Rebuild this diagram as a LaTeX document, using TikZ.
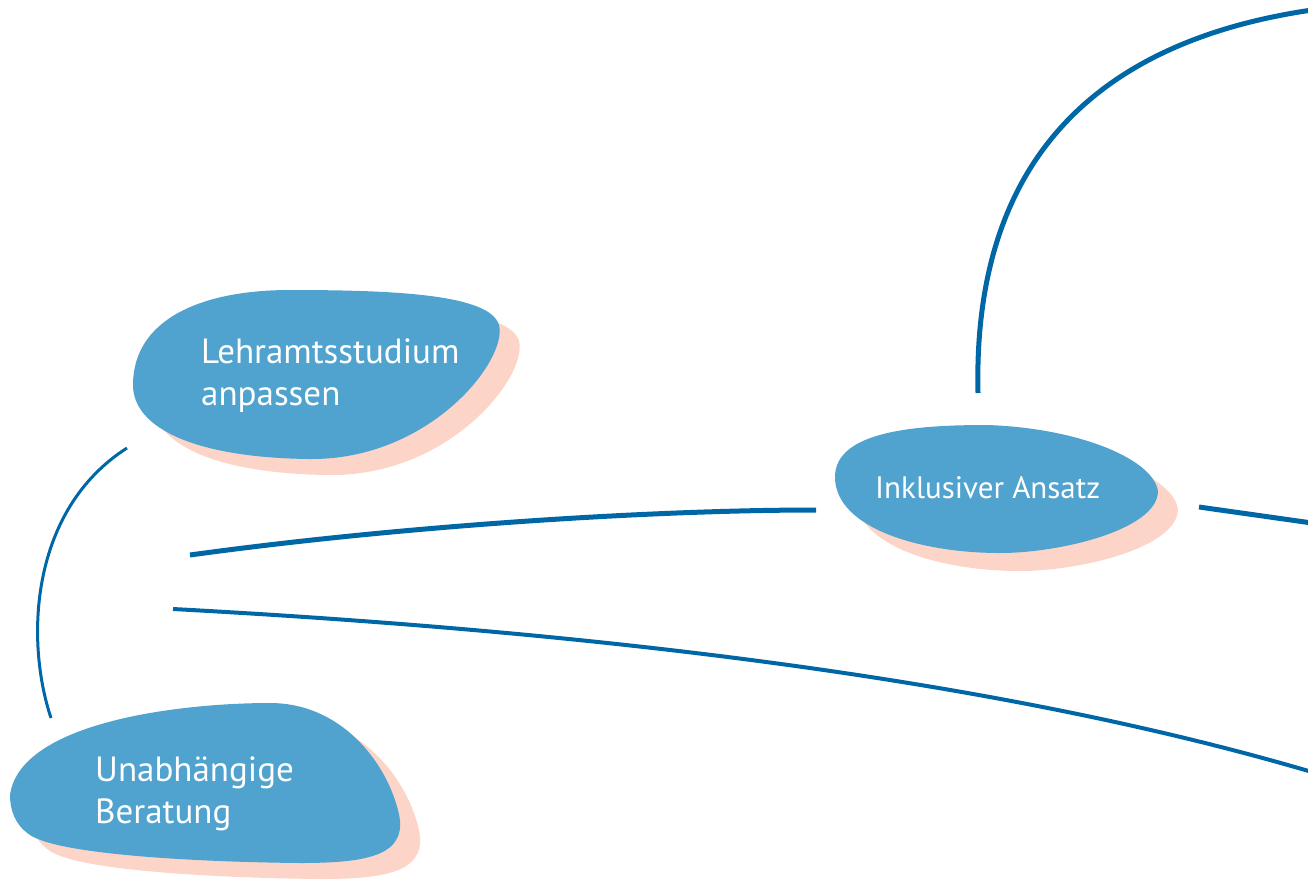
\documentclass[tikz,border=0pt]{standalone}
\usepackage{fontspec}
\setmainfont{PT Sans}
\definecolor{blobblue}{HTML}{4FA3CE}
\definecolor{blobshadow}{HTML}{FCD5C8}
\definecolor{linkblue}{HTML}{0067A6}
\begin{document}
\begin{tikzpicture}[x=1pt,y=-1pt,
  blob/.style={fill=blobblue},
  shade/.style={fill=blobshadow},
  link/.style={draw=linkblue,line width=5pt},
  thinlink/.style={draw=linkblue,line width=4pt},
  hairlink/.style={draw=linkblue,line width=3pt},
  label/.style={text=white,inner sep=0pt,align=left,font=\fontsize{35}{42}\selectfont},
  smalllabel/.style={text=white,inner sep=0pt,font=\fontsize{31}{38}\selectfont}]
\useasboundingbox (0,0) rectangle (1308,879);

% Blob 1: Lehramtsstudium anpassen
\begin{scope}[shift={(20,16)}]
\fill[shade] (133,385) .. controls (133,320) and (200,290) .. (290,290)
  .. controls (400,290) and (490,295) .. (499,325)
  .. controls (508,360) and (430,460) .. (310,459)
  .. controls (200,458) and (133,430) .. (133,385) -- cycle;
\end{scope}
\fill[blob] (133,385) .. controls (133,320) and (200,290) .. (290,290)
  .. controls (400,290) and (490,295) .. (499,325)
  .. controls (508,360) and (430,460) .. (310,459)
  .. controls (200,458) and (133,430) .. (133,385) -- cycle;

% Blob 2: Inklusiver Ansatz
\begin{scope}[shift={(20,18)}]
\fill[shade] (835,477) .. controls (835,430) and (920,425) .. (987,425)
  .. controls (1080,428) and (1155,460) .. (1158,492)
  .. controls (1156,530) and (1060,553) .. (1000,553)
  .. controls (920,553) and (835,528) .. (835,477) -- cycle;
\end{scope}
\fill[blob] (835,477) .. controls (835,430) and (920,425) .. (987,425)
  .. controls (1080,428) and (1155,460) .. (1158,492)
  .. controls (1156,530) and (1060,553) .. (1000,553)
  .. controls (920,553) and (835,528) .. (835,477) -- cycle;

% Blob 3: Unabhaengige Beratung
\begin{scope}[shift={(20,16)}]
\fill[shade] (10,795) .. controls (20,722) and (180,703) .. (270,703)
  .. controls (340,703) and (385,760) .. (398,810)
  .. controls (410,855) and (370,863) .. (300,863)
  .. controls (200,862) and (60,855) .. (30,835)
  .. controls (15,825) and (10,810) .. (10,795) -- cycle;
\end{scope}
\fill[blob] (10,795) .. controls (20,722) and (180,703) .. (270,703)
  .. controls (340,703) and (385,760) .. (398,810)
  .. controls (410,855) and (370,863) .. (300,863)
  .. controls (200,862) and (60,855) .. (30,835)
  .. controls (15,825) and (10,810) .. (10,795) -- cycle;

% Labels
\node[label,anchor=west] (lehr) at (201,376) {Lehramtsstudium\\anpassen};
\node[smalllabel,anchor=base west] (inkl) at (875,498) {Inklusiver Ansatz};
\node[label,anchor=west] (unab) at (95,794) {Unabhängige\\Beratung};

% Connector end points
\coordinate (a1) at (978,393);
\coordinate (a2) at (1312,10);
\coordinate (b1) at (190,555);
\coordinate (b2) at (816,510);
\coordinate (c1) at (1199,507);
\coordinate (c2) at (1312,523);
\coordinate (d1) at (173,609);
\coordinate (d2) at (1312,772);
\coordinate (e1) at (127,448);
\coordinate (e2) at (51,718);

\draw[link] (a1) .. controls (972,140) and (1120,38) .. (a2);
\draw[link] (b1) .. controls (400,526) and (650,510) .. (b2);
\draw[link] (c1) -- (c2);
\draw[thinlink] (d1) .. controls (600,632) and (1000,680) .. (d2);
\draw[hairlink] (e1) .. controls (30,510) and (25,640) .. (e2);
\end{tikzpicture}
\end{document}
